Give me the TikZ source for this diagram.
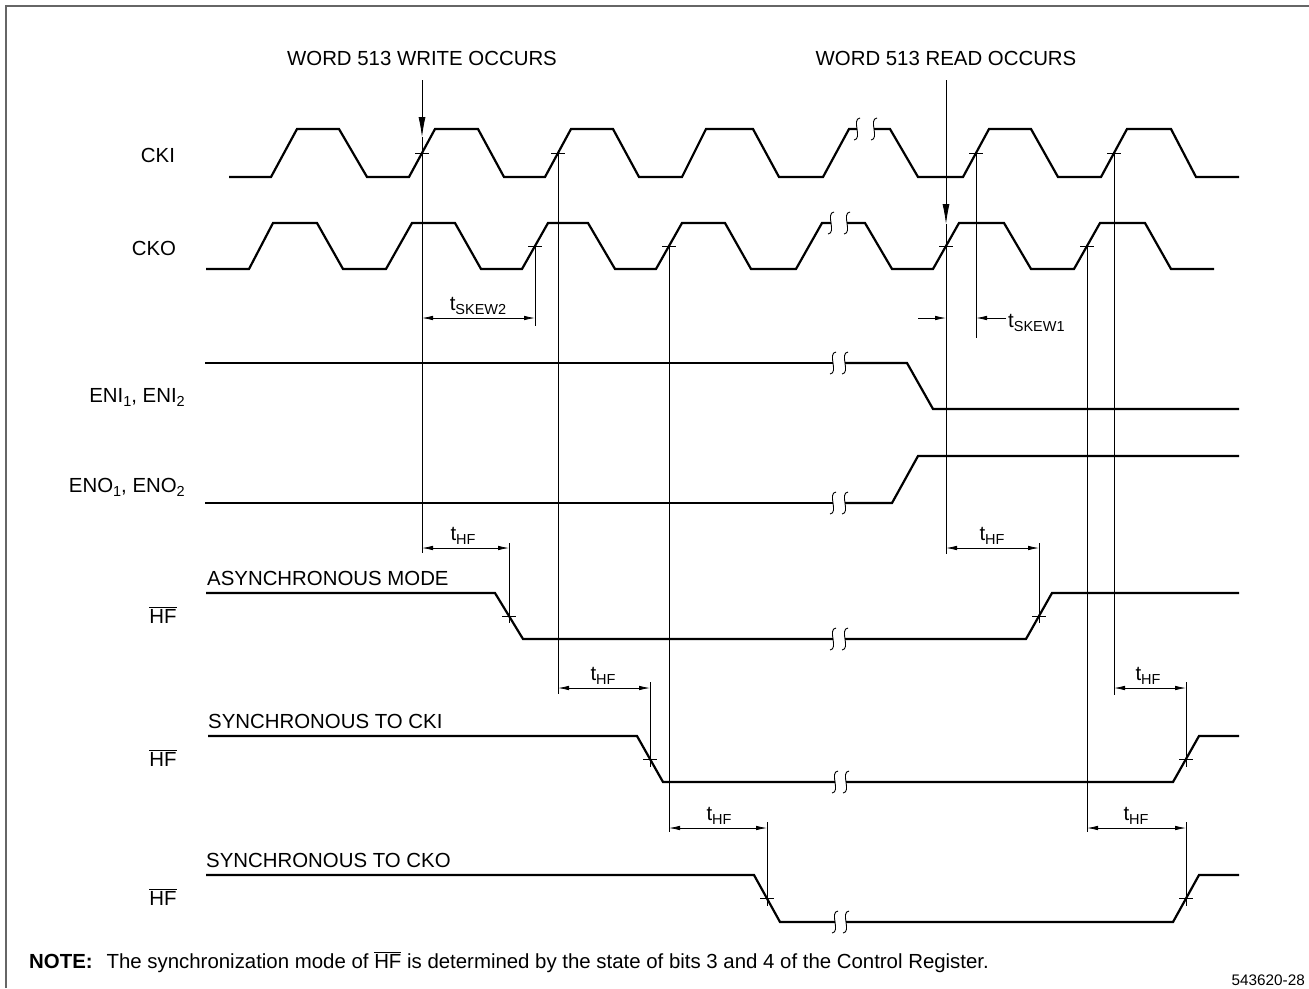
\documentclass[tikz,border=0pt]{standalone}
\usepackage{fontspec}
\setmainfont{Liberation Sans}
\usetikzlibrary{arrows.meta}
\newcommand\fsn{\fontsize{20.4}{24}\selectfont}
\newcommand\fsb{\fontsize{14.5}{16}\selectfont}
\newcommand\fsc{\fontsize{15.3}{17}\selectfont}
\newcommand\tsub[1]{t\raisebox{-4.5pt}{\fsb #1}}
\newcommand\nsub[1]{\raisebox{-4pt}{\fsb #1}}
\newcommand\hfbar{$\overline{\hbox{HF}}$}
\begin{document}
\begin{tikzpicture}[x=1pt,y=-1pt,
  wave/.style={line width=2.2pt},
  thinl/.style={line width=0.8pt},
  tickm/.style={line width=0.8pt},
  dimarr/.style={line width=0.8pt,{Latex[length=11pt,width=4.5pt]}-{Latex[length=11pt,width=4.5pt]}},
  onearr/.style={line width=0.8pt,-{Latex[length=11pt,width=4.5pt]}},
  downarr/.style={line width=0.8pt,-{Latex[length=20pt,width=7pt]}},
  lbl/.style={inner sep=0pt,font=\fsn},
  brkmark/.pic={\draw[line width=0.9pt] (3,-11) .. controls (-6,-10) and (6,10) .. (-3,11);}
]
\useasboundingbox (0,0) rectangle (1309,988);
% frame
\draw[line width=2pt,black!60] (6,988) -- (6,6) -- (1309,6);

% ---------- waveforms ----------
\draw[wave] (229,177) -- (271,177) -- (297,129) -- (339,129) -- (367,177) -- (409,177) -- (435,129) -- (478,129) -- (504,177) -- (545,177) -- (571,129) -- (613,129) -- (639,177) -- (682,177) -- (706,129) -- (753,129) -- (779,177) -- (823,177) -- (849,129) -- (857,129);
\draw[wave] (874,129) -- (890,129) -- (918,177) -- (963,177) -- (989,129) -- (1031,129) -- (1058,177) -- (1101,177) -- (1127,129) -- (1171,129) -- (1196,177) -- (1239,177);
\path (857,129) pic {brkmark} (874,129) pic {brkmark};

\draw[wave] (206,269) -- (249,269) -- (273,223) -- (317,223) -- (343,269) -- (386,269) -- (412,223) -- (455,223) -- (481,269) -- (522,269) -- (548,223) -- (588,223) -- (615,269) -- (656,269) -- (682,223) -- (725,223) -- (751,269) -- (796,269) -- (822,223) -- (831,223);
\draw[wave] (847,223) -- (865,223) -- (892,269) -- (933,269) -- (959,223) -- (1004,223) -- (1031,269) -- (1074,269) -- (1100,223) -- (1145,223) -- (1171,269) -- (1214,269);
\path (831,223) pic {brkmark} (847,223) pic {brkmark};

\draw[wave] (205,363) -- (833,363);
\draw[wave] (845,363) -- (907,363) -- (933,409) -- (1239,409);
\path (833,363) pic {brkmark} (845,363) pic {brkmark};

\draw[wave] (205,503) -- (833,503);
\draw[wave] (845,503) -- (892,503) -- (918,456) -- (1239,456);
\path (833,503) pic {brkmark} (845,503) pic {brkmark};

\draw[wave] (206,593) -- (495,593) -- (523,639) -- (833,639);
\draw[wave] (845,639) -- (1026,639) -- (1052,593) -- (1239,593);
\path (833,639) pic {brkmark} (845,639) pic {brkmark};

\draw[wave] (208,736) -- (637,736) -- (663,782) -- (835,782);
\draw[wave] (846,782) -- (1173,782) -- (1199,736) -- (1239,736);
\path (835,782) pic {brkmark} (846,782) pic {brkmark};

\draw[wave] (206,875) -- (754,875) -- (780,922) -- (835,922);
\draw[wave] (846,922) -- (1173,922) -- (1199,875) -- (1239,875);
\path (835,922) pic {brkmark} (846,922) pic {brkmark};

% ---------- tick points ----------
\coordinate (ki1) at (422,153);
\coordinate (ki2) at (558,153);
\coordinate (ki3) at (976,153);
\coordinate (ki4) at (1114,153);
\coordinate (ko1) at (535,246);
\coordinate (ko2) at (669,246);
\coordinate (ko3) at (946,246);
\coordinate (ko4) at (1087,246);
\coordinate (ha1) at (509,616);
\coordinate (ha2) at (1039,616);
\coordinate (hi1) at (650,759);
\coordinate (hi2) at (1186,759);
\coordinate (ho1) at (767,898);
\coordinate (ho2) at (1186,898);
\foreach \p in {ki1,ki2,ki3,ki4,ko1,ko2,ko3,ko4,ha1,ha2,hi1,hi2,ho1,ho2}
  \draw[tickm] ([xshift=-7pt]\p) -- ([xshift=7pt]\p);

% ---------- vertical reference lines ----------
\coordinate (wTop) at (422,80);
\coordinate (wTip) at (422,137);
\coordinate (wBot) at (422,553);
\draw[downarr] (wTop) -- (wTip);
\draw[thinl] (wTip) -- (wBot);

\coordinate (rTop) at (946,80);
\coordinate (rTip) at (946,224);
\coordinate (rBot) at (946,554);
\draw[downarr] (rTop) -- (rTip);
\draw[thinl] (rTip) -- (rBot);

\coordinate (v2b) at (558,694);
\coordinate (v3b) at (535,326);
\coordinate (v4b) at (669,832);
\coordinate (v6b) at (976,338);
\coordinate (v7b) at (1087,832);
\coordinate (v8b) at (1114,695);
\draw[thinl] (ki2) -- (v2b);
\draw[thinl] (ko1) -- (v3b);
\draw[thinl] (ko2) -- (v4b);
\draw[thinl] (ki3) -- (v6b);
\draw[thinl] (ko4) -- (v7b);
\draw[thinl] (ki4) -- (v8b);

% response verticals
\draw[thinl] (509,543) -- (509,623);
\draw[thinl] (1039,543) -- (1039,623);
\draw[thinl] (650,682) -- (650,767);
\draw[thinl] (1186,682) -- (1186,767);
\draw[thinl] (767,822) -- (767,906);
\draw[thinl] (1186,822) -- (1186,906);

% ---------- dimension arrows ----------
\coordinate (s2a) at (422,318); \coordinate (s2b) at (535,318);
\draw[dimarr] (s2a) -- (s2b);
\node[lbl,anchor=base] (ls2) at (478,310) {\tsub{SKEW2}};

\coordinate (s1a) at (918,318); \coordinate (s1b) at (946,318);
\coordinate (s1c) at (1006,318); \coordinate (s1d) at (976,318);
\draw[onearr] (s1a) -- (s1b);
\draw[onearr] (s1c) -- (s1d);
\node[lbl,anchor=base west] (ls1) at (1008,327) {\tsub{SKEW1}};

\coordinate (h1a) at (422,548); \coordinate (h1b) at (509,548);
\draw[dimarr] (h1a) -- (h1b);
\node[lbl,anchor=base] (lh1) at (463,540) {\tsub{HF}};

\coordinate (h2a) at (946,548); \coordinate (h2b) at (1039,548);
\draw[dimarr] (h2a) -- (h2b);
\node[lbl,anchor=base] (lh2) at (992,540) {\tsub{HF}};

\coordinate (h3a) at (558,688); \coordinate (h3b) at (650,688);
\draw[dimarr] (h3a) -- (h3b);
\node[lbl,anchor=base] (lh3) at (603,680) {\tsub{HF}};

\coordinate (h4a) at (1114,688); \coordinate (h4b) at (1186,688);
\draw[dimarr] (h4a) -- (h4b);
\node[lbl,anchor=base] (lh4) at (1148,680) {\tsub{HF}};

\coordinate (h5a) at (669,828); \coordinate (h5b) at (767,828);
\draw[dimarr] (h5a) -- (h5b);
\node[lbl,anchor=base] (lh5) at (719,820) {\tsub{HF}};

\coordinate (h6a) at (1087,828); \coordinate (h6b) at (1186,828);
\draw[dimarr] (h6a) -- (h6b);
\node[lbl,anchor=base] (lh6) at (1136,820) {\tsub{HF}};

% ---------- texts ----------
\node[lbl] (ttlW) at (422,58) {WORD 513 WRITE OCCURS};
\node[lbl] (ttlR) at (946,58) {WORD 513 READ OCCURS};
\node[lbl] (lCKI) at (158,155) {CKI};
\node[lbl] (lCKO) at (154,248) {CKO};
\node[lbl,anchor=base east] (lENI) at (185,402) {ENI\nsub{1}, ENI\nsub{2}};
\node[lbl,anchor=base east] (lENO) at (185,492) {ENO\nsub{1}, ENO\nsub{2}};
\node[lbl,anchor=base] (lHF1) at (163,623) {\hfbar};
\node[lbl,anchor=base] (lHF2) at (163,766) {\hfbar};
\node[lbl,anchor=base] (lHF3) at (163,905) {\hfbar};
\node[lbl,anchor=base west] (mAsync) at (207,585) {ASYNCHRONOUS MODE};
\node[lbl,anchor=base west] (mSCKI) at (208,728) {SYNCHRONOUS TO CKI};
\node[lbl,anchor=base west] (mSCKO) at (206,867) {SYNCHRONOUS TO CKO};
\node[lbl,anchor=base west] (note) at (29,968) {\textbf{NOTE:}\hspace{14pt}The synchronization mode of \hfbar{} is determined by the state of bits 3 and 4 of the Control Register.};
\node[inner sep=0pt,font=\fsc,anchor=base east] (fig) at (1305,985) {543620-28};
\end{tikzpicture}
\end{document}
